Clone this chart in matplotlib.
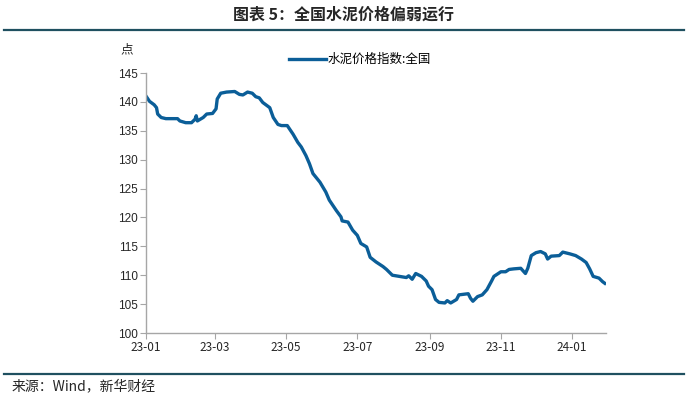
import numpy as np
import pandas as pd
import matplotlib
matplotlib.use("Agg")
import matplotlib.pyplot as plt
import matplotlib.dates as mdates

plt.rcParams['font.family'] = ['Liberation Sans', 'Noto Sans CJK SC', 'DejaVu Sans']

# 水泥价格指数:全国
dates = ["2023-01-01", "2023-01-04", "2023-01-08", "2023-01-10", "2023-01-11", "2023-01-14",
         "2023-01-18", "2023-01-28", "2023-01-30", "2023-02-04", "2023-02-09", "2023-02-12",
         "2023-02-13", "2023-02-14", "2023-02-19", "2023-02-22", "2023-02-27", "2023-03-02",
         "2023-03-03", "2023-03-06", "2023-03-11", "2023-03-18", "2023-03-22", "2023-03-25",
         "2023-03-29", "2023-04-02", "2023-04-05", "2023-04-08", "2023-04-11", "2023-04-17",
         "2023-04-20", "2023-04-24", "2023-04-27", "2023-05-02", "2023-05-07", "2023-05-11",
         "2023-05-14", "2023-05-18", "2023-05-21", "2023-05-24", "2023-05-30", "2023-06-04",
         "2023-06-07", "2023-06-13", "2023-06-17", "2023-06-18", "2023-06-23", "2023-06-27",
         "2023-07-01", "2023-07-04", "2023-07-09", "2023-07-12", "2023-07-17", "2023-07-23",
         "2023-07-26", "2023-07-31", "2023-08-06", "2023-08-12", "2023-08-14", "2023-08-17",
         "2023-08-20", "2023-08-25", "2023-08-29", "2023-08-31", "2023-09-03", "2023-09-06",
         "2023-09-09", "2023-09-14", "2023-09-16", "2023-09-19", "2023-09-24", "2023-09-26",
         "2023-10-04", "2023-10-06", "2023-10-08", "2023-10-12", "2023-10-16", "2023-10-20",
         "2023-10-24", "2023-10-26", "2023-11-01", "2023-11-05", "2023-11-08", "2023-11-12",
         "2023-11-18", "2023-11-22", "2023-11-24", "2023-11-27", "2023-12-01", "2023-12-05",
         "2023-12-09", "2023-12-11", "2023-12-14", "2023-12-21", "2023-12-24", "2023-12-30",
         "2024-01-04", "2024-01-09", "2024-01-13", "2024-01-16", "2024-01-19", "2024-01-24",
         "2024-01-27", "2024-01-29"]
values = [141.0, 140.1, 139.5, 139.0, 137.9, 137.3,
          137.1, 137.1, 136.7, 136.4, 136.4, 137.0,
          137.6, 136.7, 137.3, 137.9, 138.0, 138.8,
          140.5, 141.5, 141.7, 141.8, 141.3, 141.2,
          141.7, 141.5, 140.9, 140.7, 139.9, 139.0,
          137.3, 136.1, 135.9, 135.9, 134.4, 133.0,
          132.2, 130.7, 129.3, 127.6, 126.1, 124.4,
          123.0, 121.2, 120.1, 119.4, 119.2, 117.8,
          116.9, 115.5, 114.9, 113.1, 112.3, 111.5,
          111.0, 110.0, 109.8, 109.6, 109.9, 109.3,
          110.3, 109.8, 109.0, 108.1, 107.5, 105.8,
          105.3, 105.2, 105.6, 105.2, 105.8, 106.6,
          106.8, 106.0, 105.5, 106.3, 106.6, 107.5,
          109.0, 109.8, 110.6, 110.6, 111.0, 111.1,
          111.2, 110.3, 111.2, 113.4, 113.9, 114.1,
          113.7, 112.8, 113.3, 113.4, 114.0, 113.7,
          113.4, 112.8, 112.2, 111.1, 109.8, 109.5,
          108.9, 108.6]
tick_dates = ["2023-01-01", "2023-03-01", "2023-05-01", "2023-07-01",
              "2023-09-01", "2023-11-01", "2024-01-01"]
tick_labels = ["23-01", "23-03", "23-05", "23-07", "23-09", "23-11", "24-01"]
yticks = [100, 105, 110, 115, 120, 125, 130, 135, 140, 145]

x = pd.to_datetime(dates)
line_c = "#0B5E98"
frame_c = "#1F5060"
axis_c = "#A6A6A6"

fig = plt.figure(figsize=(6.87, 3.98), dpi=100)
ax = fig.add_axes([146/687, 1-333/398, (606-146)/687, (333-73)/398])

ax.plot(x, values, color=line_c, lw=2.4, label="水泥价格指数:全国", solid_joinstyle="round")

ax.set_xlim(pd.Timestamp("2023-01-01"), pd.Timestamp("2024-01-30"))
ax.set_ylim(100, 145)
ax.set_yticks(yticks)
ax.set_xticks(pd.to_datetime(tick_dates))
ax.set_xticklabels(tick_labels, fontsize=8.5, family=['Noto Sans CJK SC'])
ax.tick_params(axis='y', labelsize=8.5, length=4, color=axis_c, labelcolor="#262626", pad=2)
ax.tick_params(axis='x', length=4, color=axis_c, labelcolor="#262626", pad=2)
for s in ["top", "right"]:
    ax.spines[s].set_visible(False)
for s in ["left", "bottom"]:
    ax.spines[s].set_color(axis_c)
    ax.spines[s].set_linewidth(1.0)

leg = ax.legend(loc="upper center", bbox_to_anchor=(0.465, 1.12), frameon=False,
                handlelength=3.0, handletextpad=0.15,
                prop={'family': ['Noto Sans CJK SC'], 'size': 9})

fig.text(127/687, 1-50/398, "点", fontsize=9, ha="center", va="center",
         family=['Noto Sans CJK SC'], color="#262626")

# title and frame lines
fig.text(0.5, 1-15/398, "图表 5：全国水泥价格偏弱运行", fontsize=11.5, weight="bold",
         ha="center", va="center", family=['Noto Sans CJK SC'], color="#262626")
fig.add_artist(plt.Line2D([4/687, 684/687], [1-30/398, 1-30/398], color=frame_c, lw=1.6))
fig.add_artist(plt.Line2D([4/687, 684/687], [1-374/398, 1-374/398], color=frame_c, lw=1.6))
fig.text(12/687, 1-386/398, "来源：Wind，新华财经", fontsize=10, ha="left", va="center",
         family=['Noto Sans CJK SC'], color="#262626")

fig.savefig("out.png", dpi=100)
